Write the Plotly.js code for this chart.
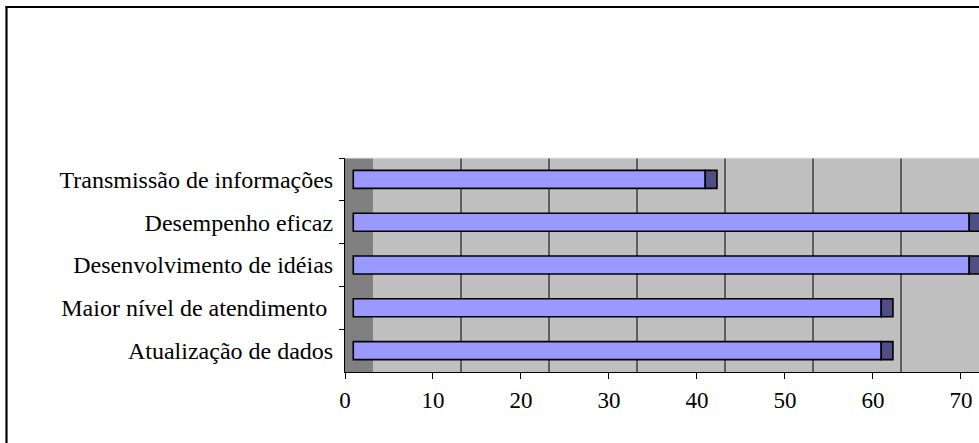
<!DOCTYPE html>
<html>
<head>
<meta charset="utf-8">
<script src="https://cdn.plot.ly/plotly-3.0.1.min.js"></script>
<style>
html,body{margin:0;padding:0;background:#fff;}
#chart{width:979px;height:443px;}
</style>
</head>
<body>
<div id="chart"></div>
<script>
// Data (top to bottom as shown)
const categories = [
  "Transmissão de informações",
  "Desempenho eficaz",
  "Desenvolvimento de idéias",
  "Maior nível de atendimento\u00a0",
  "Atualização de dados"
];
const values = [40, 70, 70, 60, 60];
const xTicks = [0, 10, 20, 30, 40, 50, 60, 70];

// 3D look parameters (in axis units)
const frontOffset = 0.94;   // bar front face starts slightly behind front plane
const capDepth = 1.33;      // visible side (end cap) of each bar
const wallDepth = 3.18;     // depth offset of back wall gridlines

const L = 345, R = 0, T = 158, B = 71, Wd = 979, Ht = 443;
const PW = Wd - L - R, PH = Ht - T - B;
const xMax = 72.05;
const px2x = p => (p - L) / PW;
const py2y = p => 1 - (p - T) / PH;

const faceTrace = {
  type: 'bar', orientation: 'h',
  y: categories,
  x: values,
  base: values.map(() => frontOffset),
  width: 0.42,
  marker: {color: '#9999FF', line: {color: '#000000', width: 1.6}},
  hoverinfo: 'x+y', xaxis: 'x', yaxis: 'y'
};
const capTrace = {
  type: 'bar', orientation: 'h',
  y: categories,
  x: values.map(() => capDepth),
  base: values.map(v => v + frontOffset),
  width: 0.42,
  marker: {color: '#4F4F86', line: {color: '#000000', width: 1.6}},
  hoverinfo: 'skip', xaxis: 'x', yaxis: 'y'
};
const gridHelper = {
  type: 'scatter', mode: 'markers', x: [], y: [],
  xaxis: 'x2', yaxis: 'y', showlegend: false, hoverinfo: 'skip'
};

const font = {family: 'Liberation Serif', size: 23, color: '#000'};
const yFont = {family: 'Liberation Serif', size: 24, color: '#000'};

const layout = {
  width: Wd, height: Ht,
  margin: {l: L, r: R, t: T, b: B, pad: 0},
  paper_bgcolor: '#ffffff',
  plot_bgcolor: '#C0C0C0',
  barmode: 'overlay',
  showlegend: false,
  font: font,
  xaxis: {
    range: [0, xMax], tickvals: xTicks, ticktext: xTicks.map(String),
    showgrid: false, zeroline: false,
    showline: true, linecolor: '#000', linewidth: 1,
    ticks: 'outside', ticklen: 6, tickcolor: '#000', tickwidth: 1,
    tickfont: font, ticklabelstandoff: 1, fixedrange: true
  },
  xaxis2: {
    overlaying: 'x', range: [-wallDepth, xMax - wallDepth],
    tickvals: [10, 20, 30, 40, 50, 60, 70],
    showticklabels: false, ticks: '', showline: false, zeroline: false,
    showgrid: true, gridcolor: '#5E5E5E', gridwidth: 1.5, fixedrange: true
  },
  yaxis: {
    type: 'category', autorange: 'reversed',
    showgrid: false, zeroline: false,
    showline: true, linecolor: '#000', linewidth: 1,
    ticks: 'outside', ticklen: 5, tickcolor: '#000', tickson: 'boundaries',
    tickfont: yFont, ticklabelstandoff: 6, fixedrange: true
  },
  shapes: [
    // dark side wall strip
    {type: 'rect', xref: 'x', yref: 'paper', x0: 0, x1: wallDepth, y0: 0, y1: 1,
     fillcolor: '#808080', line: {width: 0}, layer: 'below'},
    // light top edge of wall
    {type: 'line', xref: 'x', yref: 'paper', x0: 0, x1: xMax, y0: 1, y1: 1,
     line: {color: '#E4E4E4', width: 1}},
    // outer chart border (left and top)
    {type: 'line', xref: 'paper', yref: 'paper', x0: px2x(6.5), x1: px2x(6.5),
     y0: py2y(6), y1: py2y(445), line: {color: '#000', width: 2.2}},
    {type: 'line', xref: 'paper', yref: 'paper', x0: px2x(5.5), x1: px2x(981),
     y0: py2y(7), y1: py2y(7), line: {color: '#000', width: 2.2}}
  ]
};

Plotly.newPlot('chart', [faceTrace, capTrace, gridHelper], layout, {displayModeBar: false, staticPlot: true});
</script>
</body>
</html>
